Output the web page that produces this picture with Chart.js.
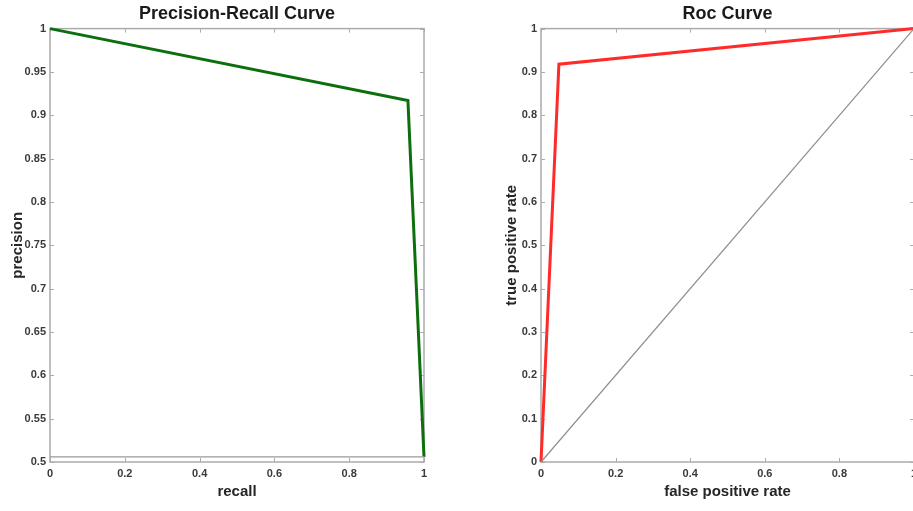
<!DOCTYPE html>
<html>
<head>
<meta charset="utf-8">
<title>Precision-Recall and ROC curves</title>
<script src="https://cdn.jsdelivr.net/npm/chart.js@4/dist/chart.umd.min.js"></script>
<style>
  html, body { margin: 0; padding: 0; background: #fff; overflow: hidden; width: 913px; height: 511px; }
  canvas { position: absolute; top: 0; }
  #prChart { left: 0; }
  #rocChart { left: 480px; }
</style>
</head>
<body>
<canvas id="prChart" width="456" height="511"></canvas>
<canvas id="rocChart" width="460" height="511"></canvas>
<script>
// --- data ---
const prRecall = [0, 0.957, 1];
const prPrecision = [1, 0.917, 0.506];
const baseRecall = [0, 1];
const basePrecision = [0.506, 0.506];

const rocFpr = [0, 0.048, 1];
const rocTpr = [0, 0.918, 1];
const chanceFpr = [0, 1];
const chanceTpr = [0, 1];

// tick values + labels
const unitTicks = [0, 0.2, 0.4, 0.6, 0.8, 1];
const unitTickLabels = ['0', '0.2', '0.4', '0.6', '0.8', '1'];
const prYTicks = [0.5, 0.55, 0.6, 0.65, 0.7, 0.75, 0.8, 0.85, 0.9, 0.95, 1];
const prYTickLabels = ['0.5', '0.55', '0.6', '0.65', '0.7', '0.75', '0.8', '0.85', '0.9', '0.95', '1'];
const rocYTicks = [0, 0.1, 0.2, 0.3, 0.4, 0.5, 0.6, 0.7, 0.8, 0.9, 1];
const rocYTickLabels = ['0', '0.1', '0.2', '0.3', '0.4', '0.5', '0.6', '0.7', '0.8', '0.9', '1'];

const FONT = '"Liberation Sans", Arial, sans-serif';

function points(xs, ys) {
    return xs.map((x, i) => ({ x: x, y: ys[i] }));
}

// MATLAB-like box with inward tick marks on all four sides
const boxTicks = {
    id: 'boxTicks',
    beforeDatasetsDraw(chart) {
        const { ctx, chartArea: a, scales: { x, y } } = chart;
        ctx.save();
        ctx.strokeStyle = '#ababab';
        ctx.lineWidth = 1.5;
        ctx.strokeRect(a.left, a.top, a.width, a.height);
        ctx.lineWidth = 1;
        ctx.beginPath();
        x.ticks.forEach(t => {
            const px = Math.round(x.getPixelForValue(t.value)) + 0.5;
            ctx.moveTo(px, a.bottom); ctx.lineTo(px, a.bottom - 4);
            ctx.moveTo(px, a.top); ctx.lineTo(px, a.top + 4);
        });
        y.ticks.forEach(t => {
            const py = Math.round(y.getPixelForValue(t.value)) + 0.5;
            ctx.moveTo(a.left, py); ctx.lineTo(a.left + 4, py);
            ctx.moveTo(a.right, py); ctx.lineTo(a.right - 4, py);
        });
        ctx.stroke();
        ctx.restore();
    }
};

function axis(min, max, values, labels, titleText, opts) {
    return {
        type: 'linear',
        min: min,
        max: max,
        grid: { display: false, drawTicks: false },
        border: { display: false },
        afterBuildTicks: s => { s.ticks = values.map(v => ({ value: v })); },
        afterFit: opts.fit,
        ticks: {
            padding: opts.tickPad,
            autoSkip: false,
            maxRotation: 0,
            color: '#3a3a3a',
            font: { family: FONT, size: 11, weight: 'bold' },
            callback: (v, i) => labels[i]
        },
        title: {
            display: true,
            text: titleText,
            color: '#262626',
            padding: opts.titlePad,
            font: { family: FONT, size: 15, weight: 'bold' }
        }
    };
}

function makeChart(id, titleText, datasets, scales, padRight) {
    return new Chart(document.getElementById(id), {
        type: 'scatter',
        data: { datasets: datasets },
        options: {
            responsive: false,
            animation: false,
            devicePixelRatio: 1,
            layout: { padding: { left: 0, right: padRight, top: 0, bottom: 0 } },
            plugins: {
                legend: { display: false },
                tooltip: { enabled: false },
                title: {
                    display: true,
                    text: titleText,
                    fullSize: false,
                    color: '#1a1a1a',
                    padding: { top: 3, bottom: 4 },
                    font: { family: FONT, size: 18, weight: 'bold' }
                }
            },
            elements: { point: { radius: 0 } },
            scales: scales
        },
        plugins: [boxTicks]
    });
}

makeChart('prChart', 'Precision-Recall Curve', [
    {
        data: points(baseRecall, basePrecision),
        showLine: true, borderColor: '#999999', borderWidth: 1.2, clip: false
    },
    {
        data: points(prRecall, prPrecision),
        showLine: true, borderColor: '#0d6e0d', borderWidth: 3, clip: false
    }
], {
    x: axis(0, 1, unitTicks, unitTickLabels, 'recall',
        { fit: s => { s.height = 49; }, tickPad: 5, titlePad: { top: 2, bottom: 10 } }),
    y: axis(0.5, 1, prYTicks, prYTickLabels, 'precision',
        { fit: s => { s.width = 50; }, tickPad: 4, titlePad: { top: 9, bottom: 0 } })
}, 32);

makeChart('rocChart', 'Roc Curve', [
    {
        data: points(chanceFpr, chanceTpr),
        showLine: true, borderColor: '#8f8f8f', borderWidth: 1.2, clip: false
    },
    {
        data: points(rocFpr, rocTpr),
        showLine: true, borderColor: '#ff2b2b', borderWidth: 3, clip: false
    }
], {
    x: axis(0, 1, unitTicks, unitTickLabels, 'false positive rate',
        { fit: s => { s.height = 49; }, tickPad: 5, titlePad: { top: 2, bottom: 10 } }),
    y: axis(0, 1, rocYTicks, rocYTickLabels, 'true positive rate',
        { fit: s => { s.width = 61; }, tickPad: 4, titlePad: { top: 23, bottom: 0 } })
}, 26);
</script>
</body>
</html>
